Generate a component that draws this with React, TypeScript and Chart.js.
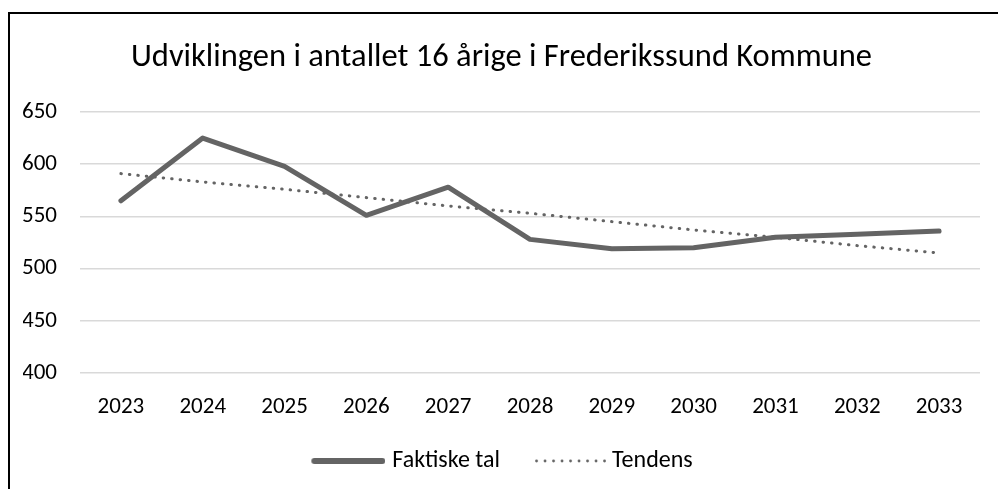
import React, { useEffect, useRef } from "react";
import { Chart, registerables } from "chart.js";

Chart.register(...registerables);

const years = ["2023", "2024", "2025", "2026", "2027", "2028", "2029", "2030", "2031", "2032", "2033"];
const faktiskeTal = [565, 625, 598, 551, 578, 528, 519, 520, 530, 533, 536];
const tendens = [591, 583, 576, 568, 560, 553, 545, 537, 530, 522, 515];
const titleText = "Udviklingen i antallet 16 årige i Frederikssund Kommune";
const FONT = "Carlito, Calibri, Lato, sans-serif";
const GRAY = "#646464";

function solidSample(): HTMLCanvasElement {
  const c = document.createElement("canvas");
  c.width = 80;
  c.height = 8;
  const ctx = c.getContext("2d")!;
  ctx.strokeStyle = GRAY;
  ctx.lineWidth = 6;
  ctx.lineCap = "round";
  ctx.beginPath();
  ctx.moveTo(9, 4);
  ctx.lineTo(77, 4);
  ctx.stroke();
  return c;
}

function dottedSample(): HTMLCanvasElement {
  const c = document.createElement("canvas");
  c.width = 82;
  c.height = 6;
  const ctx = c.getContext("2d")!;
  ctx.fillStyle = GRAY;
  for (let i = 0; i < 9; i++) {
    ctx.beginPath();
    ctx.arc(12.5 + i * 8.5, 3, 1.4, 0, Math.PI * 2);
    ctx.fill();
  }
  return c;
}

export default function App() {
  const ref = useRef<HTMLCanvasElement | null>(null);
  useEffect(() => {
    if (!ref.current) return;
    const samples = [solidSample(), dottedSample()];
    const chart = new Chart(ref.current, {
      type: "line",
      data: {
        labels: years,
        datasets: [
          {
            label: "Faktiske tal",
            data: faktiskeTal,
            borderColor: GRAY,
            backgroundColor: GRAY,
            borderWidth: 5,
            borderCapStyle: "round",
            borderJoinStyle: "round",
            pointRadius: 0,
            tension: 0,
          },
          {
            label: "Tendens",
            data: tendens,
            borderColor: GRAY,
            backgroundColor: GRAY,
            borderWidth: 3,
            borderDash: [0.5, 8],
            borderCapStyle: "round",
            pointRadius: 0,
            tension: 0,
          },
        ],
      },
      options: {
        animation: false,
        responsive: true,
        maintainAspectRatio: false,
        layout: { padding: { left: 13, right: 18, top: 15, bottom: 6 } },
        plugins: {
          title: {
            display: true,
            text: titleText,
            color: "#000",
            font: { family: FONT, size: 32.5, weight: "normal" },
            padding: { top: 9, bottom: 35 },
          },
          legend: {
            position: "bottom",
            labels: {
              color: "#000",
              font: { family: FONT, size: 24 },
              usePointStyle: true,
              pointStyleWidth: 70,
              boxWidth: 70,
              boxHeight: 8,
              padding: 30,
              generateLabels: (ch: any) => {
                const items = Chart.defaults.plugins.legend.labels.generateLabels(ch);
                items.forEach((it: any, i: number) => {
                  it.pointStyle = samples[i];
                });
                return items;
              },
            },
          },
          tooltip: { enabled: false },
        },
        scales: {
          x: {
            offset: true,
            grid: { display: false, drawTicks: false },
            border: { display: false },
            ticks: { color: "#000", font: { family: FONT, size: 23 }, padding: 20 },
            afterFit: (scale: any) => {
              scale.height = 46;
            },
          },
          y: {
            min: 400,
            max: 650,
            grid: { color: "#d9d9d9", lineWidth: 1.5, drawTicks: false },
            border: { display: false },
            ticks: { stepSize: 50, color: "#000", font: { family: FONT, size: 23 }, padding: 23 },
            afterFit: (scale: any) => {
              scale.width = 57;
            },
          },
        },
      },
    });
    return () => chart.destroy();
  }, []);
  return (
    <div
      style={{
        position: "absolute",
        left: 8,
        top: 12,
        width: 990,
        height: 477,
        boxSizing: "border-box",
        borderTop: "2px solid #000",
        borderLeft: "2px solid #000",
        background: "#fff",
      }}
    >
      <div style={{ position: "relative", width: "100%", height: "100%" }}>
        <canvas ref={ref} />
      </div>
    </div>
  );
}
